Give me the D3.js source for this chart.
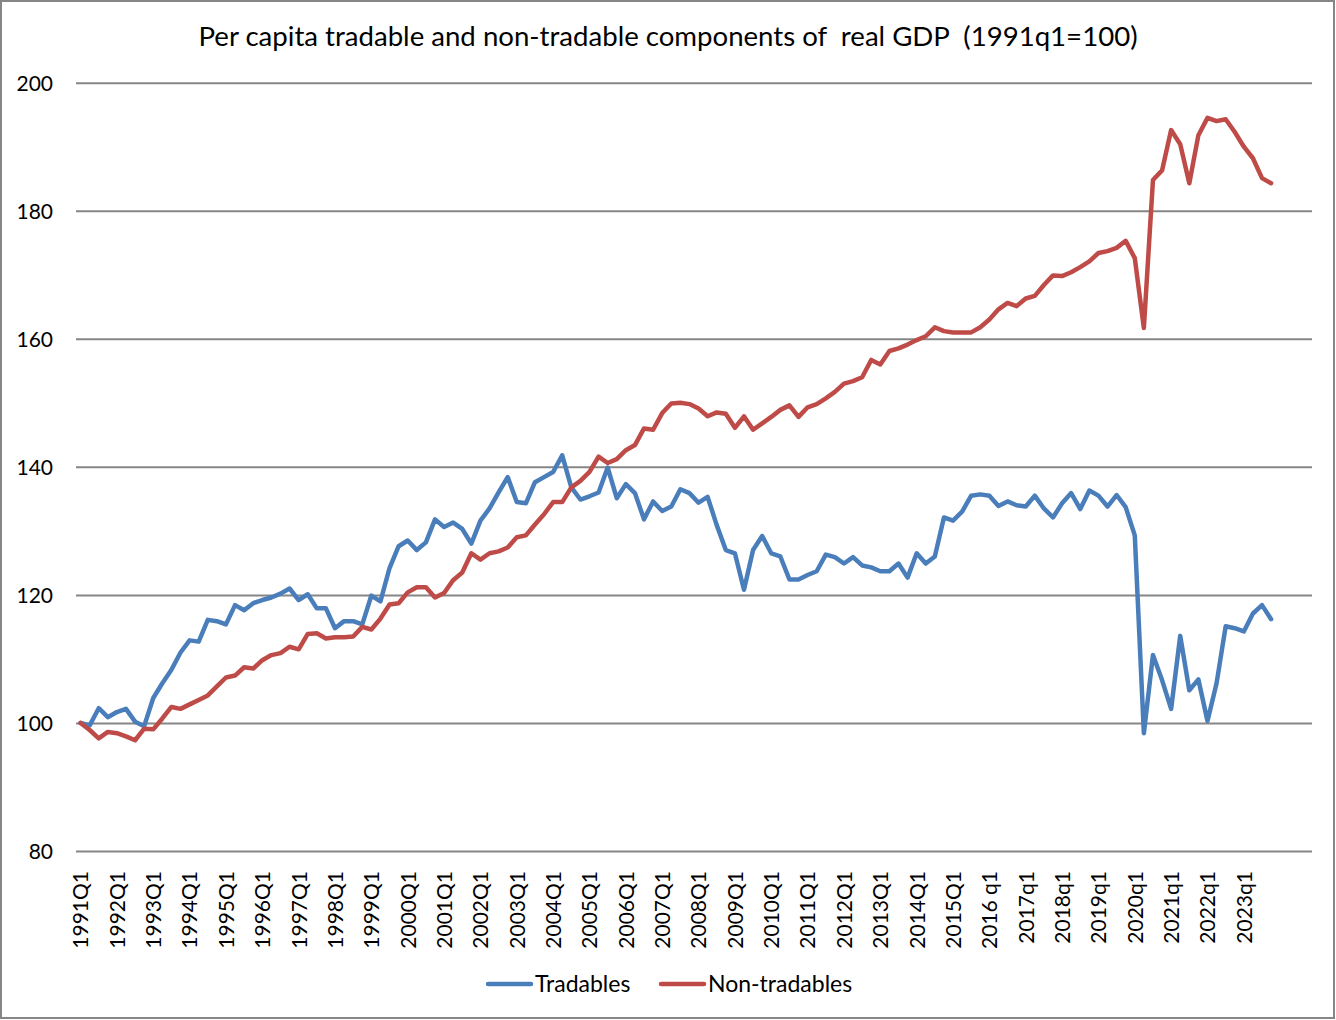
<!DOCTYPE html>
<html>
<head>
<meta charset="utf-8">
<script src="https://cdn.jsdelivr.net/npm/d3@7"></script>
<style>
  body { margin: 0; background: #fff; }
  text { font-family: Lato, "Open Sans", sans-serif; fill: #000; }
</style>
</head>
<body>
<svg id="chart" width="1336" height="1020"></svg>
<script>
// quarterly categories 1991Q1 .. 2024Q4 (last year left empty, as in the original sheet)
var quarters = [];
for (var yr = 1991; yr <= 2024; yr++) {
    for (var q = 1; q <= 4; q++) { quarters.push(yr + "Q" + q); }
}

var yearLabels = ["1991Q1","1992Q1","1993Q1","1994Q1","1995Q1","1996Q1","1997Q1","1998Q1",
    "1999Q1","2000Q1","2001Q1","2002Q1","2003Q1","2004Q1","2005Q1","2006Q1","2007Q1",
    "2008Q1","2009Q1","2010Q1","2011Q1","2012Q1","2013Q1","2014Q1","2015Q1","2016 q1",
    "2017q1","2018q1","2019q1","2020q1","2021q1","2022q1","2023q1"];

var yTicks = [80, 100, 120, 140, 160, 180, 200];

var tradables = [100,99.6,102.3,100.9,101.7,102.2,100.2,99.5,
    103.9,106.2,108.3,111,112.9,112.7,116.1,115.9,
    115.4,118.4,117.6,118.7,119.2,119.6,120.2,121,
    119.2,120.1,117.9,117.9,114.8,115.9,115.9,115.4,
    119.9,119,124.2,127.6,128.5,127,128.2,131.8,
    130.6,131.3,130.3,128,131.6,133.5,136,138.4,
    134.5,134.3,137.6,138.4,139.2,141.8,136.8,134.9,
    135.4,136,139.9,135.1,137.3,135.9,131.8,134.6,
    133.1,133.8,136.5,135.9,134.4,135.3,130.9,127,
    126.5,120.8,127,129.2,126.5,126,122.4,122.4,
    123.1,123.7,126.3,125.9,124.9,125.9,124.6,124.3,
    123.7,123.7,124.9,122.7,126.5,124.9,126,132.1,
    131.6,133,135.5,135.7,135.5,133.9,134.6,134,
    133.8,135.5,133.5,132.1,134.3,135.9,133.4,136.3,
    135.5,133.8,135.6,133.7,129.3,98.4,110.6,106.7,
    102.2,113.6,105.1,106.8,100.3,106.2,115.1,114.8,
    114.3,117.1,118.4,116.2];

var nonTradables = [100,98.9,97.6,98.6,98.4,97.9,97.3,99.1,
    99,100.7,102.5,102.2,102.9,103.6,104.3,105.7,
    107.1,107.4,108.7,108.5,109.8,110.6,110.9,111.9,
    111.5,113.9,114,113.2,113.4,113.4,113.5,115,
    114.6,116.3,118.5,118.7,120.4,121.2,121.2,119.6,
    120.3,122.3,123.5,126.5,125.5,126.5,126.8,127.4,
    129,129.3,131,132.6,134.5,134.5,136.8,137.8,
    139.2,141.6,140.6,141.2,142.6,143.4,146,145.8,
    148.4,149.9,150,149.8,149.1,147.9,148.5,148.3,
    146.1,147.9,145.8,146.8,147.8,148.9,149.6,147.8,
    149.3,149.8,150.7,151.7,153,153.4,154,156.7,
    156,158.1,158.5,159.1,159.8,160.4,161.8,161.2,
    161,161,161,161.8,163,164.6,165.6,165.1,
    166.3,166.7,168.4,169.9,169.8,170.4,171.2,172.1,
    173.4,173.7,174.2,175.3,172.6,161.7,184.8,186.3,
    192.6,190.4,184.3,191.8,194.5,194,194.3,192.3,
    190,188.2,185.1,184.3];

var seriesNames = ["Tradables", "Non-tradables"];
var seriesColors = ["#4A7EBB", "#BE4B48"];

var svg = d3.select("#chart");
var plotLeft = 76, plotRight = 1312, plotTop = 82.7, plotBottom = 851;

svg.append("rect")
    .attr("x", 1).attr("y", 1).attr("width", 1333).attr("height", 1017)
    .attr("fill", "#fff").attr("stroke", "#868686").attr("stroke-width", 2);

svg.append("text")
    .attr("x", 668).attr("y", 46)
    .attr("text-anchor", "middle")
    .style("font-size", "27.6px")
    .style("white-space", "pre")
    .text("Per capita tradable and non-tradable components of  real GDP  (1991q1=100)");

var x = d3.scalePoint().domain(quarters).range([plotLeft, plotRight]).padding(0.5);
var y = d3.scaleLinear().domain([80, 200]).range([plotBottom, plotTop]);

// gridlines + y labels
var yAxis = svg.append("g")
    .attr("transform", "translate(" + plotLeft + ",0)")
    .call(d3.axisLeft(y).tickValues(yTicks).tickSize(-(plotRight - plotLeft)).tickPadding(23));
yAxis.select(".domain").remove();
yAxis.selectAll(".tick line").attr("stroke", "#868686").attr("stroke-width", 2);
yAxis.selectAll(".tick text").style("font-size", "21px").attr("fill", "#000").attr("dy", "0.35em");

// x labels
var q1s = quarters.filter(function(d){ return d.slice(-2) == "Q1"; }).slice(0, yearLabels.length);
var xAxis = svg.append("g")
    .attr("transform", "translate(0," + plotBottom + ")")
    .call(d3.axisBottom(x).tickValues(q1s).tickSize(0)
        .tickFormat(function(d, i){ return yearLabels[i]; }));
xAxis.select(".domain").remove();
xAxis.selectAll(".tick text")
    .style("font-size", "21px").attr("fill", "#000")
    .attr("text-anchor", "end")
    .attr("transform", "rotate(-90)")
    .attr("x", -20).attr("y", 0).attr("dy", "0.35em");

var line = d3.line()
    .x(function(d, i){ return x(quarters[i]); })
    .y(function(d){ return y(d); });

[tradables, nonTradables].forEach(function(s, k){
    svg.append("path")
        .datum(s)
        .attr("fill", "none")
        .attr("stroke", seriesColors[k])
        .attr("stroke-width", 4.5)
        .attr("stroke-linejoin", "round")
        .attr("stroke-linecap", "round")
        .attr("d", line);
});

// legend
var legendX = [488, 661];
seriesNames.forEach(function(name, k){
    var g = svg.append("g").attr("transform", "translate(" + legendX[k] + ",984)");
    g.append("line").attr("x1", 0).attr("x2", 43).attr("y1", 0).attr("y2", 0)
        .attr("stroke", seriesColors[k]).attr("stroke-width", 4.5).attr("stroke-linecap", "round");
    g.append("text").attr("x", 47).attr("y", 0).attr("dy", "0.35em")
        .style("font-size", "23px").text(name);
});
</script>
</body>
</html>
